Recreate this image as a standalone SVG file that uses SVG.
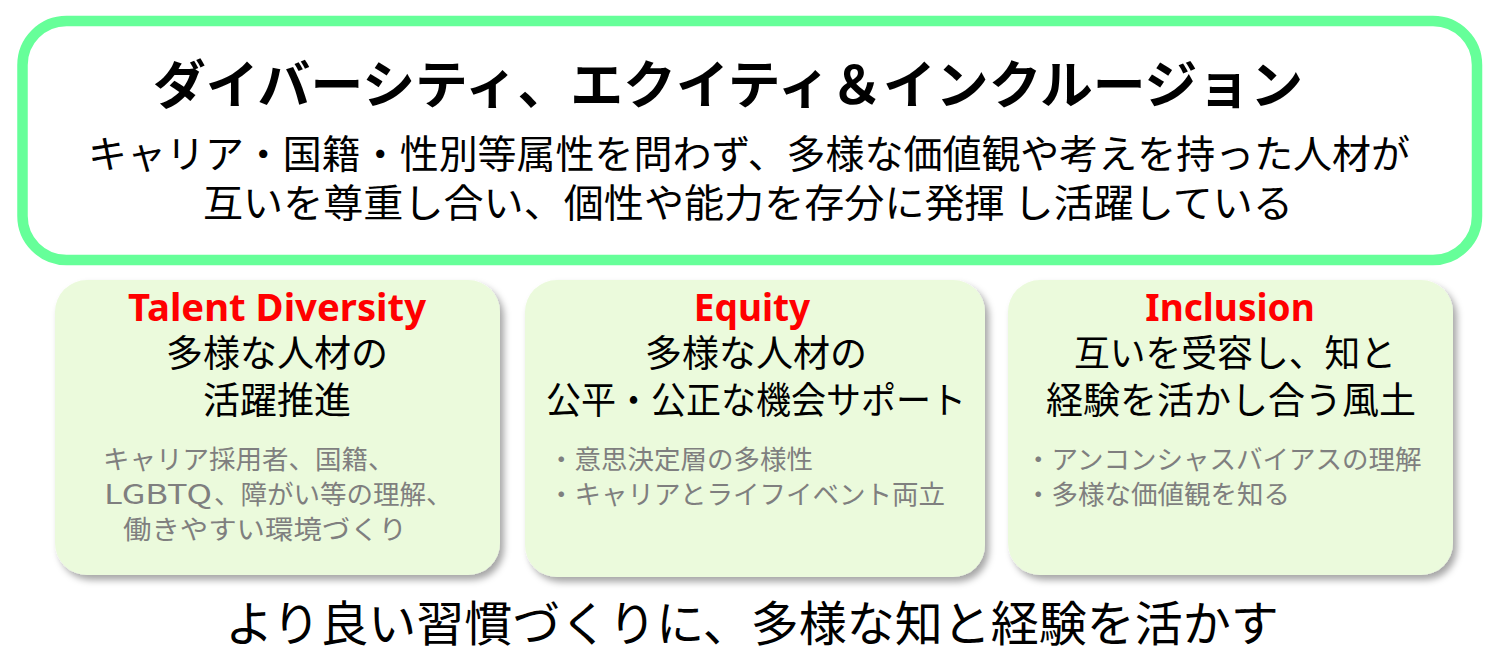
<svg xmlns="http://www.w3.org/2000/svg" width="1500" height="670" viewBox="0 0 1500 670">
<defs>
<filter id="sh" x="-10%" y="-10%" width="125%" height="125%">
<feDropShadow dx="4" dy="5" stdDeviation="3.5" flood-color="#000" flood-opacity="0.35"/>
</filter>
<style>
.jp{font-family:"Noto Sans CJK JP","Noto Sans",sans-serif}
.title{font-size:52px;font-weight:bold;fill:#000}
.sub{font-size:38.5px;fill:#000}
.head{font-family:"Noto Sans","Noto Sans CJK JP",sans-serif;font-size:37px;font-weight:bold;fill:#FF0000}
.main{font-size:37px;fill:#000}
.note{font-size:26.5px;fill:#7F7F7F}
.bottom{font-size:48px;fill:#000}
.card{fill:#EBFADC;filter:url(#sh)}
</style>
</defs>
<rect width="1500" height="670" fill="#fff"/>
<g id="header">
<rect x="22.5" y="21" width="1454.5" height="239" rx="44" fill="#fff" stroke="#66FF99" stroke-width="10.5"/>
<text class="jp title" x="728" y="104" text-anchor="middle" textLength="1150" lengthAdjust="spacingAndGlyphs">ダイバーシティ、エクイティ＆インクルージョン</text>
<text class="jp sub" x="749" y="168" text-anchor="middle" textLength="1322" lengthAdjust="spacingAndGlyphs">キャリア・国籍・性別等属性を問わず、多様な価値観や考えを持った人材が</text>
<text class="jp sub" x="748" y="217" text-anchor="middle" textLength="1090" lengthAdjust="spacingAndGlyphs">互いを尊重し合い、個性や能力を存分に発揮 し活躍している</text>
</g>
<g id="talent">
<rect class="card" x="55" y="280" width="445" height="295" rx="32"/>
<text class="head" x="277" y="321" text-anchor="middle" textLength="298" lengthAdjust="spacingAndGlyphs">Talent Diversity</text>
<text class="jp main" x="277" y="367" text-anchor="middle">多様な人材の</text>
<text class="jp main" x="277" y="414" text-anchor="middle">活躍推進</text>
<text class="jp note" x="103" y="469">キャリア採用者、国籍、</text>
<text class="jp note" x="104" y="504" textLength="108" lengthAdjust="spacingAndGlyphs">LGBTQ</text>
<text class="jp note" x="214" y="504">、障がい等の理解、</text>
<text class="jp note" x="123" y="539" textLength="284" lengthAdjust="spacingAndGlyphs">働きやすい環境づくり</text>
</g>
<g id="equity">
<rect class="card" x="525" y="280" width="460" height="297" rx="32"/>
<text class="head" x="752" y="321" text-anchor="middle">Equity</text>
<text class="jp main" x="756" y="367" text-anchor="middle">多様な人材の</text>
<text class="jp main" x="756" y="414" text-anchor="middle" textLength="420" lengthAdjust="spacingAndGlyphs">公平・公正な機会サポート</text>
<text class="jp note" x="548" y="469">・意思決定層の多様性</text>
<text class="jp note" x="548" y="504">・キャリアとライフイベント両立</text>
</g>
<g id="inclusion">
<rect class="card" x="1008" y="280" width="445" height="295" rx="32"/>
<text class="head" x="1230" y="321" text-anchor="middle">Inclusion</text>
<text class="jp main" x="1235" y="367" text-anchor="middle" textLength="322" lengthAdjust="spacingAndGlyphs">互いを受容し、知と</text>
<text class="jp main" x="1231" y="414" text-anchor="middle">経験を活かし合う風土</text>
<text class="jp note" x="1025" y="469">・アンコンシャスバイアスの理解</text>
<text class="jp note" x="1025" y="504">・多様な価値観を知る</text>
</g>
<g id="footer">
<text class="jp bottom" x="752" y="641" text-anchor="middle">より良い習慣づくりに、多様な知と経験を活かす</text>
</g>
<g id="connectors"></g>
</svg>
